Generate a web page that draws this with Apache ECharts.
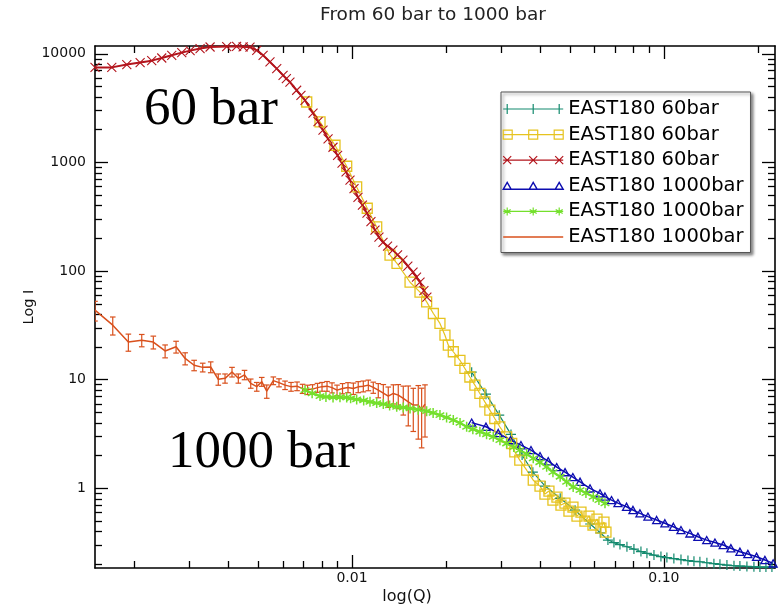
<!DOCTYPE html>
<html><head><meta charset="utf-8">
<script src="https://cdn.jsdelivr.net/npm/echarts@6/dist/echarts.min.js"></script>
<style>html,body{margin:0;padding:0;background:#fff}#c{width:780px;height:608px}</style>
</head><body><div id="c"></div>
<script>
// ---------- data ----------
const qTeal = [0.02419,0.02688,0.02965,0.03233,0.0351,0.038,0.0416,0.0465,0.0519,0.0580,0.0625,0.06614,0.06914,0.07228,0.0761,0.08013,0.08439,0.0882,0.0929,0.09781,0.1022,0.1076,0.1134,0.1194,0.1248,0.1304,0.1373,0.1446,0.1512,0.1592,0.1677,0.1752,0.1845,0.1943,0.2031,0.2123,0.2219];
const iTeal = [11.75,7.37,4.72,3.14,2.03,1.41,1.05,0.81,0.63,0.47,0.39,0.3345,0.3172,0.304,0.2902,0.2764,0.2622,0.2523,0.2434,0.2358,0.2308,0.226,0.2213,0.2166,0.213,0.2112,0.2068,0.2029,0.1999,0.197,0.1941,0.1929,0.1912,0.19,0.1888,0.1888,0.1888];

const qYel = [0.007159,0.007897,0.00882,0.009616,0.01035,0.01119,0.012,0.01324,0.01394,0.01535,0.01652,0.01735,0.01823,0.01914,0.01986,0.02036,0.02112,0.02218,0.02301,0.02387,0.02477,0.0257,0.02666,0.02766,0.02869,0.02976,0.03133,0.03251,0.03326,0.0345,0.03631,0.03811,0.04006,0.04155,0.04279,0.04407,0.04539,0.04676,0.04816,0.0496,0.05109,0.05263,0.0542,0.05582,0.0575,0.05922,0.061,0.06282,0.06423,0.06518];
const iYel = [3600,2360,1440,923,595,379,255,140,118,79,64,52.1,40.7,33.0,25.7,20.8,18.1,15.1,12.7,10.6,8.92,7.48,6.26,5.25,4.40,3.69,2.98,2.59,2.17,1.82,1.47,1.19,1.05,0.886,0.944,0.78,0.832,0.702,0.732,0.618,0.673,0.556,0.605,0.5,0.556,0.46,0.522,0.431,0.49,0.396];

const qRed = [0.0015,0.001698,0.001897,0.002093,0.00228,0.002455,0.002643,0.002846,0.003027,0.003258,0.003508,0.003966,0.004266,0.004477,0.00471,0.004951,0.005188,0.005458,0.005737,0.006012,0.00616,0.006324,0.006646,0.00686,0.007068,0.007499,0.00778,0.008072,0.00838,0.00869,0.00899,0.00929,0.00957,0.009853,0.01015,0.01045,0.0108,0.01117,0.0115,0.01185,0.0122,0.01257,0.0130,0.01352,0.0140,0.01456,0.0151,0.01569,0.0161,0.01652,0.0170,0.01738];
const iRed = [7500,7500,7960,8300,8650,9150,9690,10260,10700,11170,11550,11650,11700,11600,11500,10770,9690,8410,7310,6340,5900,5500,4620,4150,3730,2840,2380,1980,1650,1380,1160,984,820,686,575,478,405,341,285,238,205,184,170,156,141,126,111,97.7,88,79,66,57.5];

const qBlue = [0.02419,0.02688,0.02943,0.03222,0.0348,0.03748,0.04006,0.04256,0.04531,0.04819,0.05105,0.05383,0.05794,0.06237,0.0647,0.06792,0.07122,0.07586,0.07955,0.08375,0.08885,0.09475,0.1007,0.1072,0.1134,0.1211,0.1285,0.1371,0.1457,0.1549,0.1639,0.1752,0.1858,0.1981,0.2107,0.2239];
const iBlue = [4.03,3.69,3.23,2.78,2.50,2.25,1.98,1.78,1.57,1.41,1.27,1.15,1.00,0.90,0.841,0.78,0.732,0.677,0.632,0.589,0.55,0.511,0.477,0.443,0.413,0.385,0.359,0.334,0.317,0.301,0.281,0.261,0.249,0.235,0.219,0.204];

const qGreen = [0.007069,0.00745,0.007897,0.00825,0.008693,0.00915,0.009616,0.0099,0.01035,0.0109,0.01142,0.012,0.0126,0.0132,0.01391,0.0146,0.01535,0.0163,0.01735,0.0182,0.01914,0.0201,0.02112,0.0222,0.02331,0.0244,0.0257,0.027,0.02837,0.0298,0.03131,0.033,0.0345,0.0363,0.03811,0.04,0.04207,0.04407,0.04648,0.04876,0.05117,0.05383,0.05623,0.05934,0.06188,0.06471];
const iGreen = [8.02,7.5,7.07,6.95,6.87,6.9,6.87,6.75,6.59,6.45,6.26,6.1,5.97,5.8,5.63,5.55,5.44,5.3,5.14,4.95,4.73,4.5,4.25,4.0,3.69,3.5,3.32,3.15,2.98,2.78,2.59,2.4,2.25,2.07,1.89,1.74,1.58,1.41,1.28,1.15,1.03,0.965,0.905,0.837,0.78,0.728];

const qOr = [0.0015,0.00171,0.001919,0.002118,0.002307,0.002517,0.002729,0.002918,0.003118,0.003322,0.003524,0.003727,0.003917,0.004124,0.004321,0.004523,0.004735,0.00495,0.005136,0.005329,0.005595,0.005834,0.0061,0.006376,0.006665,0.006941,0.007202,0.007472,0.007752,0.008014,0.008316,0.008628,0.008954,0.009324,0.009709,0.0101,0.01047,0.01087,0.01128,0.0117,0.01214,0.0126,0.01307,0.01357,0.01407,0.0146,0.01515,0.01572,0.01631,0.01672,0.01714];
const iOr = [43.7,31.8,22.3,23.1,22.2,18.4,20.1,15.7,13.6,13.0,13.1,10.1,10.3,11.8,10.3,11.1,9.25,8.64,9.6,7.85,9.81,9.4,8.92,8.64,8.73,8.28,8.11,8.2,8.46,8.64,8.73,8.46,8.02,8.32,8.5,8.32,8.6,8.73,8.92,8.5,8.02,7.53,7.07,7.48,7.22,6.73,6.26,5.84,5.84,5.36,5.97];
const eOr = [9,6,4,3,3,2.5,2.5,2,1.5,1.2,1.5,1.2,1,1.2,1,1.1,0.9,0.8,0.9,1.1,0.8,0.8,0.8,0.8,0.8,0.8,0.8,0.8,0.8,0.8,0.9,0.9,0.9,0.9,0.9,1,1,1,1,1,1.2,1.5,1.5,1.5,1.8,2,2.5,2.5,3,3,3];

const seriesNames = ['EAST180 60bar','EAST180 60bar','EAST180 60bar','EAST180 1000bar','EAST180 1000bar','EAST180 1000bar'];
const qMajor = [0.01,0.1];
const qMinor = [0.002,0.003,0.004,0.005,0.006,0.007,0.008,0.009,0.02,0.03,0.04,0.05,0.06,0.07,0.08,0.09,0.2];
const iMajor = [1,10,100,1000,10000];
const iMinor = [0.2,0.3,0.4,0.5,0.6,0.7,0.8,0.9,2,3,4,5,6,7,8,9,20,30,40,50,60,70,80,90,200,300,400,500,600,700,800,900,2000,3000,4000,5000,6000,7000,8000,9000];
const Q_MIN = 0.0015, Q_MAX = 0.227, I_MIN = 0.185, I_MAX = 11800;

// ---------- styling ----------
const FONT = '"DejaVu Sans", "Liberation Sans", Arial, sans-serif';
const SERIF = '"Liberation Serif", "Times New Roman", serif';
const C = {teal:'#138a6e', yel:'#e6c31f', red:'#b3141c', blue:'#0d0db0', green:'#74e02c', orange:'#d9501c'};
const SYM = {
  plus:'path://M5,0L5,10M0,5L10,5',
  cross:'path://M0,0L10,10M10,0L0,10',
  square:'path://M0,0L10,0L10,10L0,10Z',
  tri:'path://M5,0L10,9L0,9Z',
  star:'path://M5,0L5,10M0.67,2.5L9.33,7.5M0.67,7.5L9.33,2.5'
};
const LEG = {
  plus:'path://M0,5L60,5M4,0L4,10M30,0L30,10M56,0L56,10',
  square:'path://M0,5L60,5M0,0.5L9,0.5L9,9.5L0,9.5ZM25.5,0.5L34.5,0.5L34.5,9.5L25.5,9.5ZM51,0.5L60,0.5L60,9.5L51,9.5Z',
  cross:'path://M0,5L60,5M0,1L8,9M0,9L8,1M26,1L34,9M26,9L34,1M52,1L60,9M52,9L60,1',
  tri:'path://M0,8L60,8M0,8L4,1L8,8ZM26,8L30,1L34,8ZM52,8L56,1L60,8Z',
  star:'path://M0,5L60,5M4,1L4,9M0.5,3L7.5,7M0.5,7L7.5,3M30,1L30,9M26.5,3L33.5,7M26.5,7L33.5,3M56,1L56,9M52.5,3L59.5,7M52.5,7L59.5,3',
  line:'path://M0,4.3L60,4.3L60,5.7L0,5.7Z'
};
const zip = (a,b) => a.map((x,i) => [x, b[i]]);
function mk(id, q, I, color, symbol, size, lw, bw) {
  return {type:'line', name: seriesNames[id] + '#' + id, data: zip(q, I), xAxisIndex:0, yAxisIndex:0,
    symbol: symbol, symbolSize: size, symbolKeepAspect: true, showSymbol: symbol !== 'none', showAllSymbol: true,
    lineStyle:{color: color, width: lw}, itemStyle:{color:'rgba(0,0,0,0)', borderColor: color, borderWidth: bw},
    emphasis:{disabled:true}, clip:true, animation:false};
}
const axLine = {show:true, onZero:false, lineStyle:{color:'#000', width:1.6}};
const tickStyle = {color:'#000', width:1.3};
function xAx(pos, major) {
  return {type:'log', logBase:10, min:Q_MIN, max:Q_MAX, position:pos, splitLine:{show:false},
    axisLine: major ? axLine : {show:false},
    axisTick:{show:true, inside:true, length: major ? 13 : 7, customValues: major ? qMajor : qMinor, lineStyle: tickStyle},
    axisLabel: (major && pos === 'bottom') ? {show:true, customValues: qMajor, formatter: v => Number(v).toFixed(2), margin:3, fontSize:14, color:'#111', fontFamily:FONT} : {show:false}};
}
function yAx(pos, major) {
  const a = {type:'log', logBase:10, min:I_MIN, max:I_MAX, position:pos, splitLine:{show:false},
    axisLine: major ? axLine : {show:false},
    axisTick:{show:true, inside:true, length: major ? 13 : 7, customValues: major ? iMajor : iMinor, lineStyle: tickStyle},
    axisLabel: (major && pos === 'left') ? {show:true, customValues: iMajor, formatter: v => String(Math.round(v)), margin:9, fontSize:14, color:'#111', fontFamily:FONT} : {show:false}};
  if (major && pos === 'left') {
    a.name = 'Log I'; a.nameLocation = 'middle'; a.nameGap = 58; a.nameMoveOverlap = false;
    a.nameTextStyle = {fontSize:14.5, color:'#111', fontFamily:FONT};
  }
  return a;
}
const legendItems = [
  {name: seriesNames[0]+'#0', icon: LEG.plus, itemStyle:{color:'rgba(0,0,0,0)', borderColor:C.teal, borderWidth:1.2}},
  {name: seriesNames[1]+'#1', icon: LEG.square, itemStyle:{color:'rgba(0,0,0,0)', borderColor:C.yel, borderWidth:1.2}},
  {name: seriesNames[2]+'#2', icon: LEG.cross, itemStyle:{color:'rgba(0,0,0,0)', borderColor:C.red, borderWidth:1.2}},
  {name: seriesNames[3]+'#3', icon: LEG.tri, itemStyle:{color:'rgba(0,0,0,0)', borderColor:C.blue, borderWidth:1.4}},
  {name: seriesNames[4]+'#4', icon: LEG.star, itemStyle:{color:'rgba(0,0,0,0)', borderColor:C.green, borderWidth:1.2}},
  {name: seriesNames[5]+'#5', icon: LEG.line, itemStyle:{color:C.orange, borderWidth:0}}
];

const chart = echarts.init(document.getElementById('c'), null, {renderer:'canvas'});
chart.setOption({
  animation:false,
  backgroundColor:'#fff',
  textStyle:{fontFamily:FONT},
  grid:{left:95, right:5, top:46, bottom:40, containLabel:false},
  xAxis:[xAx('bottom',true), xAx('bottom',false), xAx('top',true), xAx('top',false)],
  yAxis:[yAx('left',true), yAx('left',false), yAx('right',true), yAx('right',false)],
  legend:{orient:'vertical', left:501, top:92, selectedMode:false, data: legendItems,
    itemWidth:60, itemHeight:10, itemGap:5.6, padding:[7,7,5.5,1.5],
    backgroundColor:'#fff', borderColor:'#555', borderWidth:1,
    shadowBlur:3, shadowOffsetX:2, shadowOffsetY:2, shadowColor:'rgba(0,0,0,0.45)',
    formatter: n => n.split('#')[0],
    textStyle:{fontSize:19.5, lineHeight:18, color:'#000', fontFamily:FONT}},
  graphic:[
    {type:'text', style:{text:'From 60 bar to 1000 bar', x:433, y:15, align:'center', verticalAlign:'middle', font:'18.5px ' + FONT, fill:'#222'}},
    {type:'text', style:{text:'log(Q)', x:407, y:597, align:'center', verticalAlign:'middle', font:'16px ' + FONT, fill:'#111'}},
    {type:'text', z:1, style:{text:'60 bar', x:144, y:110, align:'left', verticalAlign:'middle', font:'53px ' + SERIF, fill:'#000'}},
    {type:'text', z:1, style:{text:'1000 bar', x:168, y:453, align:'left', verticalAlign:'middle', font:'53px ' + SERIF, fill:'#000'}}
  ],
  series:[
    mk(0, qTeal, iTeal, C.teal, SYM.plus, 10, 1.2, 1.2),
    mk(1, qYel, iYel, C.yel, SYM.square, 10, 1.2, 1.3),
    mk(2, qRed, iRed, C.red, SYM.cross, 9, 2, 1.1),
    mk(3, qBlue, iBlue, C.blue, SYM.tri, 8, 1.5, 1.3),
    mk(4, qGreen, iGreen, C.green, SYM.star, 10, 2.2, 1.5),
    mk(5, qOr, iOr, C.orange, 'none', 0, 1.5, 0),
    {type:'custom', name:'err', xAxisIndex:0, yAxisIndex:0, clip:true, animation:false,
      data: qOr.map((x,i) => [x, iOr[i]-eOr[i], iOr[i]+eOr[i]]),
      encode:{x:0, y:[1,2]},
      renderItem: function (params, api) {
        const x = api.value(0);
        const p1 = api.coord([x, api.value(1)]);
        const p2 = api.coord([x, api.value(2)]);
        const w = 2.8, st = {stroke:C.orange, lineWidth:1.2};
        return {type:'group', children:[
          {type:'line', shape:{x1:p1[0], y1:p1[1], x2:p2[0], y2:p2[1]}, style:st},
          {type:'line', shape:{x1:p1[0]-w, y1:p1[1], x2:p1[0]+w, y2:p1[1]}, style:st},
          {type:'line', shape:{x1:p2[0]-w, y1:p2[1], x2:p2[0]+w, y2:p2[1]}, style:st}
        ]};
      }}
  ]
});
</script></body></html>
